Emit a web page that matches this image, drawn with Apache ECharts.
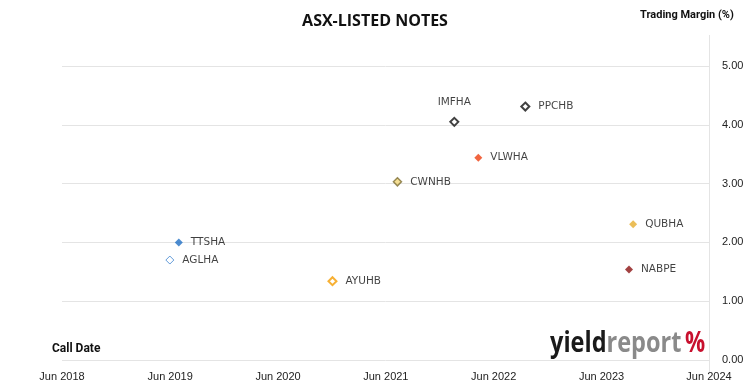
<!DOCTYPE html>
<html>
<head>
<meta charset="utf-8">
<script src="https://cdn.jsdelivr.net/npm/echarts@6/dist/echarts.min.js"></script>
<style>html,body{margin:0;padding:0;background:#fff;}</style>
</head>
<body>
<div id="main" style="width:750px;height:391px;"></div>
<script type="text/javascript">
    // notes, call dates (yyyy-mm-dd) and trading margin (%)
    let notes = ['TTSHA', 'AGLHA', 'AYUHB', 'CWNHB', 'IMFHA', 'VLWHA', 'PPCHB', 'QUBHA', 'NABPE'];
    let callDates = ['2019-07-01', '2019-06-01', '2020-12-04', '2021-07-11', '2022-01-21', '2022-04-11', '2022-09-18', '2023-09-18', '2023-09-04'];
    let margins = [2.00, 1.70, 1.34, 3.03, 4.05, 3.44, 4.31, 2.31, 1.54];
    let xTicks = ['Jun 2018', 'Jun 2019', 'Jun 2020', 'Jun 2021', 'Jun 2022', 'Jun 2023', 'Jun 2024'];
    let yTicks = [0, 1, 2, 3, 4, 5];

    // marker looks: [border colour, fill colour, border width]
    let looks = {
        TTSHA: ['#1f6fc4', '#1f6fc4', 0],
        AGLHA: ['#3b82d0', '#ffffff', 1],
        AYUHB: ['#f59c00', '#ffffff', 2],
        CWNHB: ['#7d6e35', '#f2d77a', 1.5],
        IMFHA: ['#111111', '#ffffff', 2],
        VLWHA: ['#ee3f10', '#ee3f10', 0],
        PPCHB: ['#111111', '#ffffff', 2],
        QUBHA: ['#e6ae2e', '#e6ae2e', 0],
        NABPE: ['#8b1212', '#8b1212', 0]
    };

    function toYear(s) {
        let p = s.split('-');
        return +p[0] + (+p[1] - 1) / 12 + ((p[2] ? +p[2] : 1) - 1) / 365;
    }
    let x0 = toYear('2018-06-01');
    let x1 = toYear('2024-06-01');

    let points = notes.map(function (n, i) {
        let lk = looks[n];
        return {
            name: n,
            value: [toYear(callDates[i]), margins[i]],
            itemStyle: { color: lk[1], borderColor: lk[0], borderWidth: lk[2] },
            label: n === 'IMFHA' ? { position: 'top', distance: 9 } : { position: 'right', distance: 8 }
        };
    });

    let myChart = echarts.init(document.getElementById('main'));
    let option = {
        animation: false,
        backgroundColor: '#fff',
        title: {
            text: 'ASX-LISTED NOTES',
            left: 'center',
            top: 8,
            textStyle: { fontFamily: 'Open Sans', fontWeight: 'bold', fontSize: 16, color: '#111' }
        },
        grid: { left: 62, right: 41, top: 66, bottom: 31 },
        xAxis: {
            type: 'value',
            min: x0,
            max: x1,
            interval: 1,
            axisLine: { show: false },
            axisTick: { show: false },
            splitLine: { show: false },
            axisLabel: {
                margin: 11,
                color: '#222',
                fontFamily: 'Liberation Sans',
                fontSize: 11,
                formatter: function (v) {
                    return xTicks[Math.round(v - x0)] || '';
                }
            }
        },
        yAxis: {
            type: 'value',
            position: 'right',
            min: yTicks[0],
            max: yTicks[yTicks.length - 1],
            interval: 1,
            axisLine: { show: false },
            axisTick: { show: false },
            splitLine: { lineStyle: { color: '#e4e4e4', width: 1 } },
            axisLabel: {
                margin: 13,
                color: '#222',
                fontFamily: 'Liberation Sans',
                fontSize: 11,
                formatter: function (v) { return v.toFixed(2); }
            }
        },
        series: [{
            type: 'scatter',
            symbol: 'diamond',
            symbolSize: 8,
            data: points,
            label: {
                show: true,
                formatter: '{b}',
                color: '#111',
                fontFamily: 'DejaVu Sans',
                fontSize: 10.5
            }
        }],
        graphic: [
            {
                type: 'line',
                shape: { x1: 709.5, y1: 35, x2: 709.5, y2: 372 },
                style: { stroke: '#e4e4e4', lineWidth: 1 }
            },
            {
                type: 'text',
                left: 640, top: 10,
                style: { text: 'Trading Margin (%)', font: 'bold 11px Roboto', fill: '#111' }
            },
            {
                type: 'text',
                left: 52, top: 343,
                style: { text: 'Call Date', font: 'bold 12px Roboto', fill: '#111' }
            },
            {
                type: 'text',
                x: 550, y: 330,
                scaleX: 0.84,
                style: {
                    text: '{a|yield}{b|report}',
                    rich: {
                        a: { font: 'bold 28px "Open Sans"', fill: '#1a1a1a' },
                        b: { font: 'bold 28px "Open Sans"', fill: '#8a8a8a' }
                    }
                }
            },
            {
                type: 'text',
                x: 685, y: 330,
                scaleX: 0.8,
                style: { text: '%', font: 'bold 28px "Open Sans"', fill: '#c8102e' }
            }
        ]
    };
    myChart.setOption(option);
</script>
</body>
</html>
